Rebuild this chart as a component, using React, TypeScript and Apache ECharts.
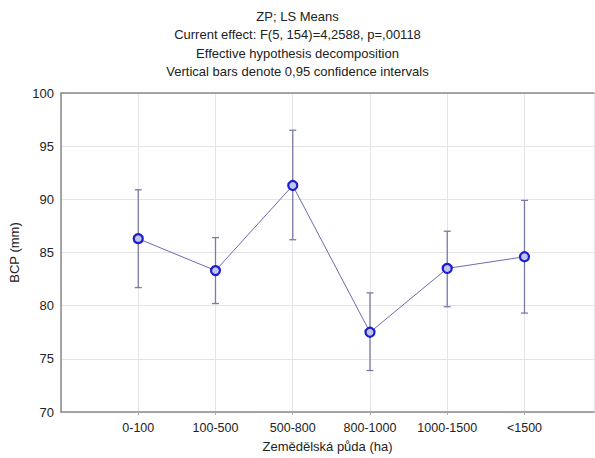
import React, { useEffect, useRef } from "react";
import * as echarts from "echarts";

// Farm size classes (agricultural land, ha)
const categories = ["0-100", "100-500", "500-800", "800-1000", "1000-1500", "<1500"];
// LS means of BCP (mm)
const means = [86.3, 83.3, 91.3, 77.5, 83.5, 84.6];
// 95% confidence interval bounds
const lower = [81.7, 80.2, 86.2, 73.9, 79.9, 79.3];
const upper = [90.9, 86.4, 96.5, 81.2, 87.0, 89.9];
// y-axis ticks
const yMin = 70;
const yMax = 100;
const yStep = 5;

const titleLines = [
  "ZP; LS Means",
  "Current effect: F(5, 154)=4,2588, p=,00118",
  "Effective hypothesis decomposition",
  "Vertical bars denote 0,95 confidence intervals",
];

const FONT = "Liberation Sans, Arial, sans-serif";
const AXIS_COLOR = "#8a8a8a";

export default function App() {
  const ref = useRef<HTMLDivElement>(null);

  useEffect(() => {
    if (!ref.current) return;
    const chart = echarts.init(ref.current, undefined, { renderer: "svg" });

    const meanPoints = means.map((m, i) => [i + 1, m]);
    const ciData = categories.map((_, i) => [i + 1, lower[i], upper[i]]);

    chart.setOption({
      animation: false,
      backgroundColor: "#ffffff",
      textStyle: { fontFamily: FONT },
      title: {
        text: titleLines.join("\n"),
        left: "center",
        top: 2,
        textStyle: {
          fontFamily: FONT,
          fontSize: 13,
          fontWeight: "normal",
          color: "#222",
          lineHeight: 18.5,
        },
      },
      grid: { left: 60, right: 1, top: 93, bottom: 45 },
      xAxis: [
        {
          type: "value",
          min: 0,
          max: 6.9,
          interval: 1,
          name: "Zemědělská půda (ha)",
          nameLocation: "middle",
          nameGap: 28,
          nameTextStyle: { fontFamily: FONT, fontSize: 13, color: "#222" },
          axisLine: { lineStyle: { color: AXIS_COLOR, width: 1.5 } },
          axisTick: { show: true, length: 3, lineStyle: { color: "#aaa" } },
          axisLabel: {
            fontFamily: FONT,
            fontSize: 12.5,
            color: "#222",
            margin: 9,
            showMinLabel: false,
            showMaxLabel: false,
            formatter: (v: number) => categories[v - 1] ?? "",
          },
          splitLine: { show: true, lineStyle: { color: "#e4e4ea" } },
        },
        {
          // top frame line of the plot box
          type: "value",
          position: "top",
          min: 0,
          max: 6.9,
          axisLine: { show: true, lineStyle: { color: AXIS_COLOR, width: 1.5 } },
          axisTick: { show: false },
          axisLabel: { show: false },
          splitLine: { show: false },
        },
      ],
      yAxis: {
        type: "value",
        min: yMin,
        max: yMax,
        interval: yStep,
        name: "BCP (mm)",
        nameLocation: "middle",
        nameGap: 40,
        nameRotate: 90,
        nameTextStyle: { fontFamily: FONT, fontSize: 13, color: "#222" },
        axisLine: { show: true, lineStyle: { color: AXIS_COLOR, width: 1.5 } },
        axisTick: { show: false },
        axisLabel: { fontFamily: FONT, fontSize: 13, color: "#222", margin: 7 },
        splitLine: { show: true, lineStyle: { color: "#e4e4e8" } },
      },
      series: [
        {
          type: "custom",
          name: "CI",
          z: 2,
          data: ciData,
          renderItem: (params: any, api: any) => {
            const x = api.value(0);
            const lo = api.coord([x, api.value(1)]);
            const hi = api.coord([x, api.value(2)]);
            const cap = 3.5;
            const style = { stroke: "#7a7aa6", lineWidth: 1.3 };
            return {
              type: "group",
              children: [
                { type: "line", shape: { x1: lo[0], y1: lo[1], x2: hi[0], y2: hi[1] }, style },
                { type: "line", shape: { x1: hi[0] - cap, y1: hi[1], x2: hi[0] + cap, y2: hi[1] }, style },
                { type: "line", shape: { x1: lo[0] - cap, y1: lo[1], x2: lo[0] + cap, y2: lo[1] }, style },
              ],
            };
          },
        },
        {
          type: "line",
          name: "LS Means",
          z: 3,
          data: meanPoints,
          symbol: "circle",
          symbolSize: 9,
          lineStyle: { color: "#6b6bb0", width: 1 },
          itemStyle: { color: "#c4c4f0", borderColor: "#1c1cd0", borderWidth: 2.2 },
        },
      ],
    });

    return () => chart.dispose();
  }, []);

  return (
    <div
      ref={ref}
      style={{ position: "absolute", left: 0, top: 0, width: 595, height: 458 }}
    />
  );
}
